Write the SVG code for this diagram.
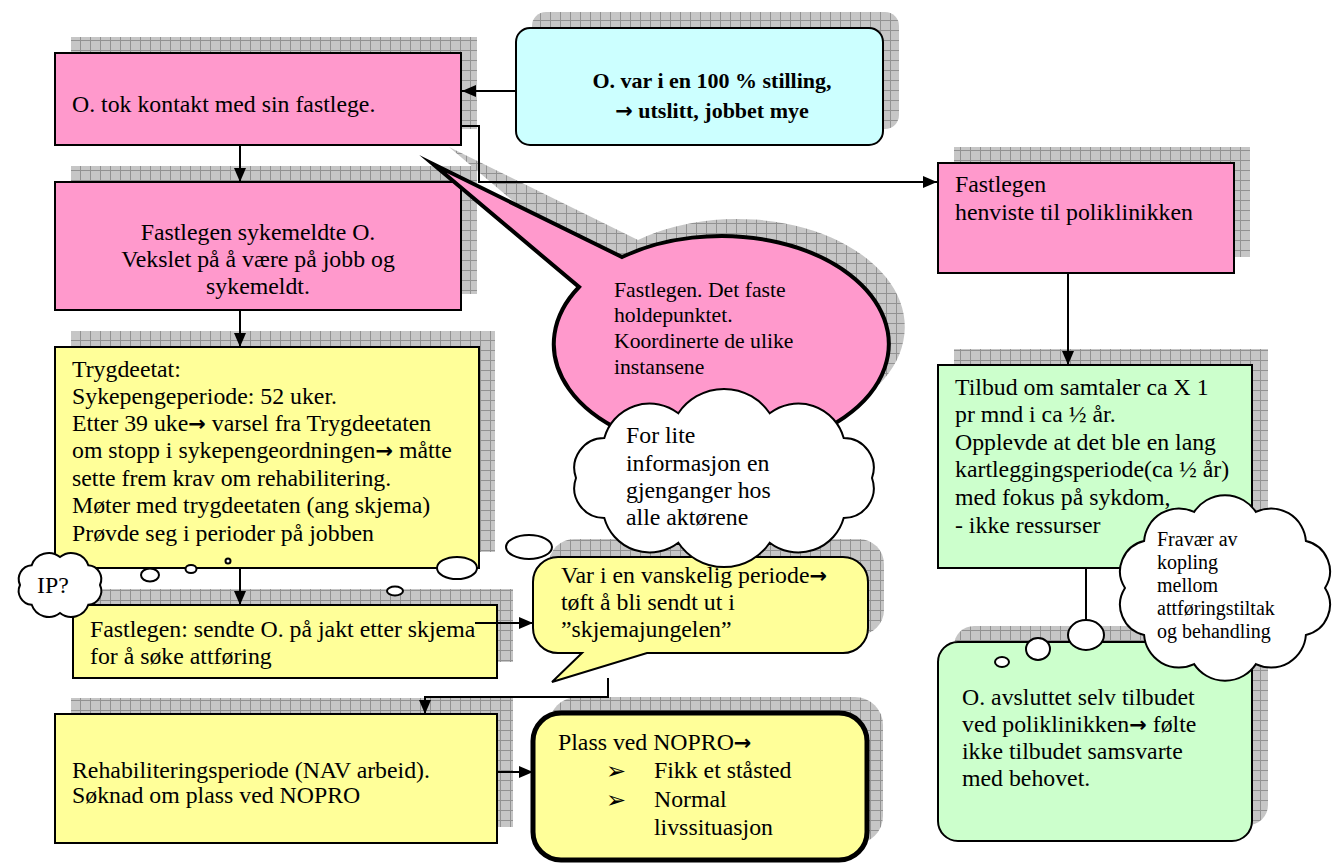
<svg xmlns="http://www.w3.org/2000/svg" width="1339" height="864" viewBox="0 0 1339 864">
<defs>
<style>
.t{font-family:"Liberation Serif","Times New Roman",serif;font-size:23.8px;fill:#000}
.b{font-weight:bold;font-size:22px}
.s{font-size:21.7px}
.f{font-size:20px}
.ar{font-family:"DejaVu Sans",sans-serif;font-weight:bold;font-size:21px}
.bul{font-family:"DejaVu Sans",sans-serif;font-size:24px}
.sh{fill:url(#grid)}
.box{stroke:#000;stroke-width:2}
.pink{fill:#ff99cc}.yel{fill:#ffff99}.cyan{fill:#ccffff}.grn{fill:#ccffcc}
.cl{fill:#fff;stroke:#000;stroke-width:2}
#connectors path{fill:none;stroke:#000;stroke-width:2}
</style>
<pattern id="grid" width="10" height="10" patternUnits="userSpaceOnUse">
<rect width="10" height="10" fill="#c6c6c6"/>
<path d="M0,0.5H10M0.5,0V10" stroke="#929292" stroke-width="1"/>
</pattern>
<marker id="ah" viewBox="0 0 14 12" refX="14" refY="6" markerWidth="14" markerHeight="12" markerUnits="userSpaceOnUse" orient="auto"><path d="M0,0L14,6L0,12Z" fill="#000"/></marker>
</defs>
<rect width="1339" height="864" fill="#fff"/>

<g id="n-kontakt">
<rect class="sh" x="71" y="37" width="406" height="92"/>
<rect class="box pink" x="55" y="53" width="406" height="92"/>
<text class="t" x="72" y="112">O. tok kontakt med sin fastlege.</text>
</g>

<g id="n-stilling">
<rect class="sh" x="532" y="12" width="367" height="117" rx="14"/>
<rect class="box cyan" x="516" y="28" width="367" height="117" rx="14"/>
<text class="t b" x="712" y="88" text-anchor="middle">O. var i en 100 % stilling,</text>
<text class="t b" x="712" y="118" text-anchor="middle"><tspan class="ar">→</tspan> utslitt, jobbet mye</text>
</g>

<g id="n-sykemeldte">
<rect class="sh" x="71" y="166" width="406" height="128"/>
<rect class="box pink" x="55" y="182" width="406" height="128"/>
<text class="t" x="258" y="240" text-anchor="middle">Fastlegen sykemeldte O.</text>
<text class="t" x="258" y="267" text-anchor="middle">Vekslet på å være på jobb og</text>
<text class="t" x="258" y="294" text-anchor="middle">sykemeldt.</text>
</g>

<g id="n-trygdeetat">
<rect class="sh" x="71" y="331" width="424" height="221"/>
<rect class="box yel" x="55" y="347" width="424" height="221"/>
<text class="t" x="72" y="377">Trygdeetat:</text>
<text class="t" x="72" y="404">Sykepengeperiode: 52 uker.</text>
<text class="t" x="72" y="431">Etter 39 uke<tspan class="ar">→</tspan> varsel fra Trygdeetaten</text>
<text class="t" x="72" y="458">om stopp i sykepengeordningen<tspan class="ar">→</tspan> måtte</text>
<text class="t" x="72" y="486">sette frem krav om rehabilitering.</text>
<text class="t" x="72" y="513">Møter med trygdeetaten (ang skjema)</text>
<text class="t" x="72" y="541">Prøvde seg i perioder på jobben</text>
</g>

<g id="n-skjema">
<rect class="sh" x="89" y="589" width="424" height="73"/>
<rect class="box yel" x="73" y="605" width="424" height="73"/>
<text class="t" x="90" y="637">Fastlegen: sendte O. på jakt etter skjema</text>
<text class="t" x="90" y="664">for å søke attføring</text>
</g>

<g id="n-vanskelig">
<rect class="sh" x="549" y="539" width="335" height="96" rx="25"/>
<path class="box yel" d="M558,557 H843 A25,25 0 0 1 868,582 V628 A25,25 0 0 1 843,653 H647 L552,682 L582,653 H558 A25,25 0 0 1 533,628 V582 A25,25 0 0 1 558,557 Z"/>
<text class="t" x="561" y="583">Var i en vanskelig periode<tspan class="ar">→</tspan></text>
<text class="t" x="561" y="610">tøft å bli sendt ut i</text>
<text class="t" x="561" y="637">”skjemajungelen”</text>
</g>

<g id="n-rehab">
<rect class="sh" x="71" y="698" width="442" height="129"/>
<rect class="box yel" x="55" y="714" width="442" height="129"/>
<text class="t" x="72" y="778">Rehabiliteringsperiode (NAV arbeid).</text>
<text class="t" x="72" y="803">Søknad om plass ved NOPRO</text>
</g>

<g id="n-nopro">
<rect class="sh" x="549" y="697" width="334" height="147" rx="28"/>
<rect x="533" y="713" width="334" height="147" rx="28" fill="#ffff99" stroke="#000" stroke-width="5"/>
<text class="t" x="558" y="750">Plass ved NOPRO<tspan class="ar">→</tspan></text>
<text class="bul" x="606" y="779">➢</text>
<text class="t" x="654" y="778">Fikk et ståsted</text>
<text class="bul" x="606" y="808">➢</text>
<text class="t" x="654" y="807">Normal</text>
<text class="t" x="654" y="835">livssituasjon</text>
</g>

<g id="n-henviste">
<rect class="sh" x="954" y="147" width="296" height="110"/>
<rect class="box pink" x="938" y="163" width="296" height="110"/>
<text class="t" x="955" y="192">Fastlegen</text>
<text class="t" x="955" y="220">henviste til poliklinikken</text>
</g>

<g id="n-tilbud">
<rect class="sh" x="954" y="349" width="314" height="203"/>
<rect class="box grn" x="938" y="365" width="314" height="203"/>
<text class="t" x="955" y="395">Tilbud om samtaler ca X 1</text>
<text class="t" x="955" y="422">pr mnd i ca ½ år.</text>
<text class="t" x="955" y="450">Opplevde at det ble en lang</text>
<text class="t" x="955" y="477">kartleggingsperiode(ca ½ år)</text>
<text class="t" x="955" y="505">med fokus på sykdom,</text>
<text class="t" x="955" y="533">- ikke ressurser</text>
</g>

<g id="n-avsluttet">
<rect class="sh" x="954" y="626" width="314" height="199" rx="20"/>
<rect class="box grn" x="938" y="642" width="314" height="199" rx="20"/>
<text class="t" x="962" y="705">O. avsluttet selv tilbudet</text>
<text class="t" x="962" y="732">ved poliklinikken<tspan class="ar">→</tspan> følte</text>
<text class="t" x="962" y="759">ikke tilbudet samsvarte</text>
<text class="t" x="962" y="786">med behovet.</text>
</g>

<g id="n-fastepunkt">
<path class="sh" transform="translate(16,-17)" d="M622,257 A167.5,108 0 1 1 579,287 L433,164 Z"/>
<path d="M622,257 A167.5,108 0 1 1 579,287 L433,164 Z" fill="#ff99cc" stroke="#000" stroke-width="4" stroke-miterlimit="12"/>
<text class="t s" x="614" y="297">Fastlegen. Det faste</text>
<text class="t s" x="614" y="322">holdepunktet.</text>
<text class="t s" x="614" y="348">Koordinerte de ulike</text>
<text class="t s" x="614" y="374">instansene</text>
</g>

<g id="connectors">
<path d="M516,91 H462" marker-end="url(#ah)"/>
<path d="M240,145 V182" marker-end="url(#ah)"/>
<path d="M461,126 H479 V182 H937" marker-end="url(#ah)"/>
<path d="M240,310 V347" marker-end="url(#ah)"/>
<path d="M240,568 V605" marker-end="url(#ah)"/>
<path d="M1068,273 V365" marker-end="url(#ah)"/>
<path d="M475,623 H533" marker-end="url(#ah)"/>
<path d="M608,678 V697 H425 V714" marker-end="url(#ah)"/>
<path d="M497,772 H533" marker-end="url(#ah)"/>
<path d="M1086,568 V620"/>
</g>

<g id="n-forlite">
<ellipse class="cl" cx="395" cy="591" rx="8" ry="4.5"/>
<ellipse class="cl" cx="457" cy="568" rx="20" ry="11"/>
<ellipse class="cl" cx="529" cy="547" rx="23" ry="12"/>
<path class="cl" d="M872,478 A30,30 0 0 1 843.7,518 A47,47 0 0 1 769.7,542.7 A55,55 0 0 1 678.3,542.7 A47,47 0 0 1 604.3,518 A30,30 0 0 1 576,478 A30,30 0 0 1 604.3,438 A47,47 0 0 1 678.3,413.3 A55,55 0 0 1 769.7,413.3 A47,47 0 0 1 843.7,438 A30,30 0 0 1 872,478 Z"/>
<text class="t" x="626" y="443">For lite</text>
<text class="t" x="626" y="471">informasjon en</text>
<text class="t" x="626" y="498">gjenganger hos</text>
<text class="t" x="626" y="525">alle aktørene</text>
</g>

<g id="n-ip">
<ellipse class="cl" cx="228" cy="561" rx="2.5" ry="2.5"/>
<ellipse class="cl" cx="191" cy="569" rx="5.5" ry="4"/>
<ellipse class="cl" cx="150" cy="575" rx="9" ry="6.5"/>
<path class="cl" d="M100,585 A14,14 0 0 1 88.3,604.8 A18,18 0 0 1 60,613 A18,18 0 0 1 31.7,604.8 A14,14 0 0 1 20,585 A14,14 0 0 1 31.7,565.2 A18,18 0 0 1 60,557 A18,18 0 0 1 88.3,565.2 A14,14 0 0 1 100,585 Z"/>
<text class="t" x="37" y="593">IP?</text>
</g>

<g id="n-fravaer">
<ellipse class="cl" cx="1002" cy="662" rx="7" ry="5"/>
<ellipse class="cl" cx="1038" cy="649" rx="12" ry="11"/>
<ellipse class="cl" cx="1086" cy="635" rx="18" ry="15"/>
<path class="cl" d="M1325,588 A31,31 0 0 1 1305.9,635 A35,35 0 0 1 1255.9,664.1 A37,37 0 0 1 1194.1,664.1 A35,35 0 0 1 1144.1,635 A31,31 0 0 1 1125,588 A31,31 0 0 1 1144.1,541 A35,35 0 0 1 1194.1,511.9 A37,37 0 0 1 1255.9,511.9 A35,35 0 0 1 1305.9,541 A31,31 0 0 1 1325,588 Z"/>
<text class="t f" x="1157" y="546">Fravær av</text>
<text class="t f" x="1157" y="569">kopling</text>
<text class="t f" x="1157" y="592">mellom</text>
<text class="t f" x="1157" y="615">attføringstiltak</text>
<text class="t f" x="1157" y="638">og behandling</text>
</g>
</svg>
